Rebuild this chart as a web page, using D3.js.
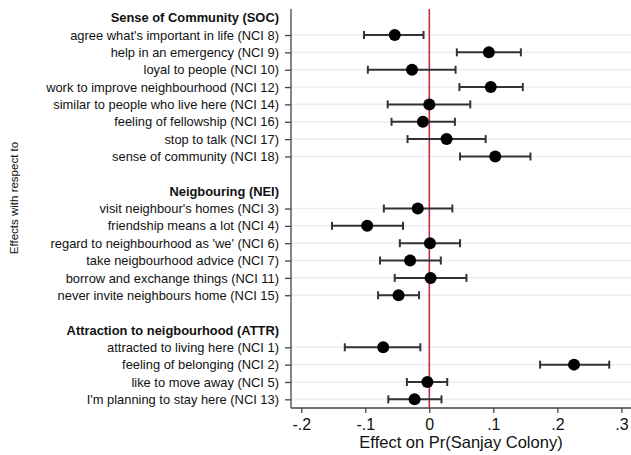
<!DOCTYPE html>
<html>
<head>
<meta charset="utf-8">
<script src="https://cdn.jsdelivr.net/npm/d3@7"></script>
<style>
  body { margin: 0; background: #fff; }
  text { font-family: "Liberation Sans", Arial, Helvetica, sans-serif; }
</style>
</head>
<body>
<div class="chart"></div>
<script>
// groups and their items (top to bottom)
var groups = ["Sense of Community (SOC)", "Neigbouring (NEI)", "Attraction to neigbourhood (ATTR)"];
var groupOf = [0, 0, 0, 0, 0, 0, 0, 0, 1, 1, 1, 1, 1, 1, 2, 2, 2, 2];
var labels = [
  "agree what's important in life (NCI 8)",
  "help in an emergency (NCI 9)",
  "loyal to people (NCI 10)",
  "work to improve neighbourhood (NCI 12)",
  "similar to people who live here (NCI 14)",
  "feeling of fellowship (NCI 16)",
  "stop to talk (NCI 17)",
  "sense of community (NCI 18)",
  "visit neighbour's homes (NCI 3)",
  "friendship means a lot (NCI 4)",
  "regard to neighbourhood as 'we' (NCI 6)",
  "take neigbourhood advice (NCI 7)",
  "borrow and exchange things (NCI 11)",
  "never invite neighbours home (NCI 15)",
  "attracted to living here (NCI 1)",
  "feeling of belonging (NCI 2)",
  "like to move away (NCI 5)",
  "I'm planning to stay here (NCI 13)"
];
var estimate = [-0.054, 0.093, -0.027, 0.096, 0.000, -0.010, 0.027, 0.103,
                -0.018, -0.097, 0.001, -0.030, 0.002, -0.048,
                -0.072, 0.226, -0.003, -0.023];
var ciLow = [-0.102, 0.043, -0.096, 0.047, -0.065, -0.059, -0.034, 0.048,
             -0.071, -0.152, -0.046, -0.077, -0.054, -0.080,
             -0.132, 0.173, -0.035, -0.064];
var ciHigh = [-0.009, 0.143, 0.041, 0.146, 0.064, 0.040, 0.088, 0.158,
              0.036, -0.041, 0.048, 0.018, 0.058, -0.016,
              -0.014, 0.281, 0.028, 0.019];
var xTicks = [-0.2, -0.1, 0, 0.1, 0.2, 0.3];
var xTickLabels = ["-.2", "-.1", "0", ".1", ".2", ".3"];

var width = 631, height = 455;
var margin = ({top: 9, right: 631, bottom: 408, left: 291});

var svg = d3.select(".chart").append("svg")
    .attr("width", width)
    .attr("height", height);

// build slot list: header, items, blank between groups
var slots = [];
groups.forEach(function(g, gi) {
  slots.push({key: "h" + gi, type: "header", text: g});
  labels.forEach(function(l, i) {
    if (groupOf[i] == gi) slots.push({key: "i" + i, type: "item", text: l, idx: i});
  });
  if (gi < groups.length - 1) slots.push({key: "b" + gi, type: "blank"});
});

const xScale = d3.scaleLinear()
    .domain([-0.216, 0.315])
    .range([margin.left, margin.right]);

const yScale = d3.scalePoint()
    .domain(slots.map(d => d.key))
    .range([margin.top, margin.bottom])
    .padding(0.5);

var items = slots.filter(d => d.type == "item");

// gridlines
svg.append("g")
    .selectAll("line")
    .data(items)
    .enter().append("line")
    .attr("x1", margin.left)
    .attr("x2", margin.right)
    .attr("y1", d => yScale(d.key))
    .attr("y2", d => yScale(d.key))
    .attr("stroke", "#e8f0f2")
    .attr("stroke-width", 1.6);

// zero line
svg.append("line")
    .attr("x1", xScale(0))
    .attr("x2", xScale(0))
    .attr("y1", margin.top)
    .attr("y2", margin.bottom)
    .attr("stroke", "#c42c44")
    .attr("stroke-width", 1.6);

// y axis
const yAxis = d3.axisLeft(yScale)
    .tickValues(items.map(d => d.key))
    .tickFormat(k => labels[+k.slice(1)])
    .tickSize(6)
    .tickPadding(6);

const gy = svg.append("g")
    .attr("class", "axis y-axis")
    .attr("transform", `translate(${margin.left},0)`)
    .call(yAxis);
gy.select(".domain").attr("d", `M0,${margin.top}V${margin.bottom}`).attr("stroke", "#444").attr("stroke-width", 1.3);
gy.selectAll(".tick line").attr("stroke", "#444").attr("stroke-width", 1.3);
gy.selectAll(".tick text").attr("font-size", 12.9).attr("fill", "#111");

// group headers
svg.append("g")
    .selectAll("text")
    .data(slots.filter(d => d.type == "header"))
    .enter().append("text")
    .attr("x", margin.left - 12)
    .attr("y", d => yScale(d.key))
    .attr("dy", "0.36em")
    .attr("text-anchor", "end")
    .attr("font-size", 12.9)
    .attr("font-weight", "bold")
    .attr("fill", "#111")
    .text(d => d.text);

// x axis
const xAxis = d3.axisBottom(xScale)
    .tickValues(xTicks)
    .tickFormat((d, i) => xTickLabels[i])
    .tickSize(5)
    .tickPadding(6);

const gx = svg.append("g")
    .attr("class", "axis x-axis")
    .attr("transform", `translate(0,${margin.bottom})`)
    .call(xAxis);
gx.select(".domain").attr("d", `M${margin.left},0H${margin.right}`).attr("stroke", "#444").attr("stroke-width", 1.3);
gx.selectAll(".tick line").attr("stroke", "#444").attr("stroke-width", 1.3);
gx.selectAll(".tick text").attr("font-size", 16).attr("fill", "#111");

// error bars
const bars = svg.append("g")
    .selectAll("g")
    .data(items)
    .enter().append("g")
    .attr("transform", d => `translate(0,${yScale(d.key)})`);

bars.append("line")
    .attr("x1", d => xScale(ciLow[d.idx]))
    .attr("x2", d => xScale(ciHigh[d.idx]))
    .attr("stroke", "#333")
    .attr("stroke-width", 2);
bars.append("line")
    .attr("x1", d => xScale(ciLow[d.idx]))
    .attr("x2", d => xScale(ciLow[d.idx]))
    .attr("y1", -4).attr("y2", 4)
    .attr("stroke", "#333")
    .attr("stroke-width", 2);
bars.append("line")
    .attr("x1", d => xScale(ciHigh[d.idx]))
    .attr("x2", d => xScale(ciHigh[d.idx]))
    .attr("y1", -4).attr("y2", 4)
    .attr("stroke", "#333")
    .attr("stroke-width", 2);
bars.append("circle")
    .attr("cx", d => xScale(estimate[d.idx]))
    .attr("r", 6)
    .attr("fill", "#000");

// axis titles
svg.append("text")
    .attr("x", (margin.left + margin.right) / 2)
    .attr("y", 448)
    .attr("text-anchor", "middle")
    .attr("font-size", 16.5)
    .attr("fill", "#111")
    .text("Effect on Pr(Sanjay Colony)");

svg.append("text")
    .attr("transform", "translate(18,198) rotate(-90)")
    .attr("text-anchor", "middle")
    .attr("font-size", 11.5)
    .attr("fill", "#111")
    .text("Effects with respect to");
</script>
</body>
</html>
